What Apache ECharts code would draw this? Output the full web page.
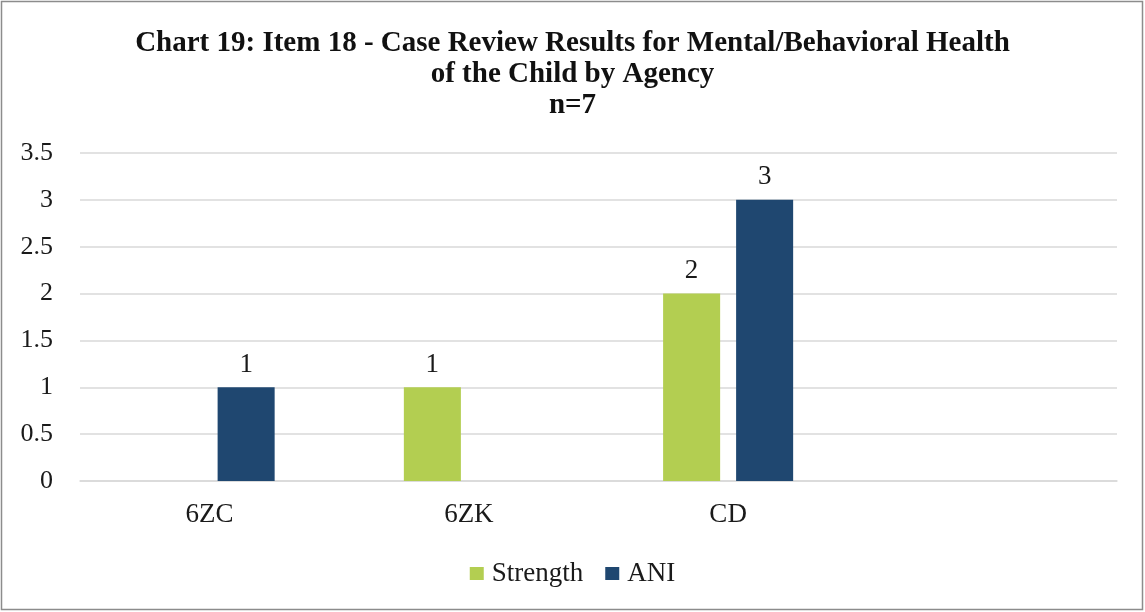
<!DOCTYPE html>
<html>
<head>
<meta charset="utf-8">
<script src="https://cdn.jsdelivr.net/npm/echarts@6/dist/echarts.min.js"></script>
<style>
  html, body { margin: 0; padding: 0; background: #fff; }
  #chart { width: 1145px; height: 612px; }
</style>
</head>
<body>
<div id="chart"></div>
<script>
const categories = ['6ZC', '6ZK', 'CD', '']
const strengthData = [null, 1, 2, null]
const aniData = [1, null, 3, null]
const yTicks = { min: 0, max: 3.5, interval: 0.5 }

const FONT = '"Liberation Serif", "Times New Roman", serif'

const myChart = echarts.init(document.getElementById('chart'))

const barLabel = {
  show: true,
  position: 'top',
  distance: 9,
  fontFamily: FONT,
  fontSize: 27,
  color: '#1a1a1a',
}

const option = {
  animation: false,
  backgroundColor: '#fff',
  color: ['#B3CE51', '#1F4770'],
  title: {
    text: 'Chart 19: Item 18 - Case Review Results for Mental/Behavioral Health\nof the Child by Agency\nn=7',
    left: 'center',
    top: 23,
    textStyle: {
      fontFamily: FONT,
      fontWeight: 'bold',
      fontSize: 29,
      lineHeight: 31,
      color: '#111',
    },
  },
  graphic: [
    {
      type: 'rect',
      shape: { x: 1.5, y: 1.5, width: 1141, height: 608 },
      style: { fill: 'none', stroke: '#8c8c8c', lineWidth: 1.5 },
      silent: true,
    },
  ],
  grid: {
    left: 80,
    right: 28,
    top: 153,
    bottom: 131,
  },
  legend: {
    top: 555,
    left: 'center',
    icon: 'rect',
    itemWidth: 14,
    itemHeight: 13,
    itemGap: 22,
    selectedMode: false,
    textStyle: {
      fontFamily: FONT,
      fontSize: 27,
      color: '#1a1a1a',
      padding: [0, 0, 0, 3],
    },
    data: ['Strength', 'ANI'],
  },
  xAxis: {
    type: 'category',
    data: categories,
    axisLine: { lineStyle: { color: '#d9d9d9', width: 1.5 } },
    axisTick: { show: false },
    axisLabel: {
      margin: 20,
      fontFamily: FONT,
      fontSize: 27,
      color: '#1a1a1a',
    },
  },
  yAxis: {
    type: 'value',
    min: yTicks.min,
    max: yTicks.max,
    interval: yTicks.interval,
    axisLine: { show: false },
    axisTick: { show: false },
    axisLabel: {
      margin: 27,
      fontFamily: FONT,
      fontSize: 26,
      color: '#1a1a1a',
    },
    splitLine: { lineStyle: { color: '#d9d9d9', width: 1.5 } },
  },
  series: [
    {
      name: 'Strength',
      type: 'bar',
      data: strengthData,
      barWidth: '22%',
      barGap: '28%',
      label: barLabel,
    },
    {
      name: 'ANI',
      type: 'bar',
      data: aniData,
      barWidth: '22%',
      barGap: '28%',
      label: barLabel,
    },
  ],
}

myChart.setOption(option)
</script>
</body>
</html>
